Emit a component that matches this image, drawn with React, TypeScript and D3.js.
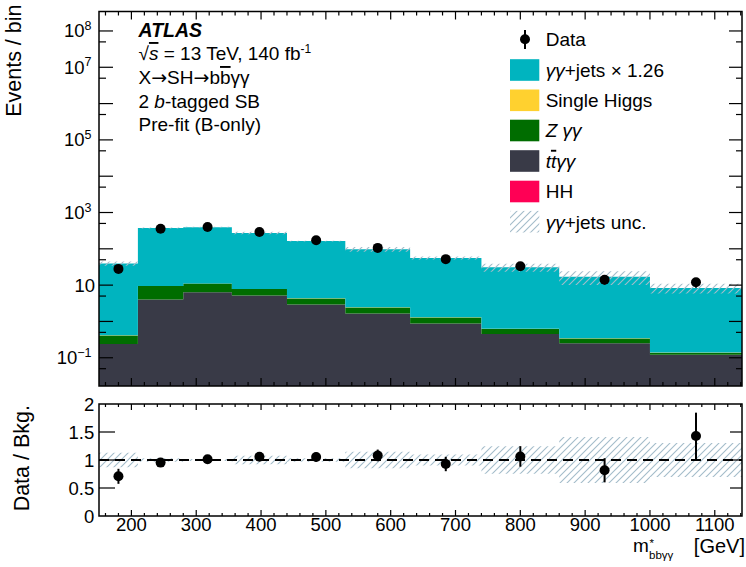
import React from "react";
import * as d3 from "d3";

const binEdges = [150, 210, 280, 355, 440, 530, 630, 740, 860, 1000, 1142];
const yyJets = [39.1, 366, 384, 266, 159, 95.6, 54.7, 30.4, 16.8, 8.26];
const singleHiggs = [0.004, 0.05, 0.06, 0.045, 0.03, 0.02, 0.012, 0.007, 0.004, 0.002];
const zyy = [0.172, 5.4, 4.7, 2.6, 1.36, 0.77, 0.41, 0.17, 0.09, 0.016];
const ttyy = [0.238, 4.0, 6.4, 5.2, 2.94, 1.66, 0.88, 0.45, 0.25, 0.121];
const hh = [0.0004, 0.003, 0.004, 0.004, 0.003, 0.002, 0.0015, 0.001, 0.0006, 0.0003];
const dataCounts = [28, 358, 400, 290, 172, 106, 52, 33, 14, 12];
const dataErr = [5.3, 18.9, 20, 17, 13.1, 10.3, 7.2, 5.7, 3.7, 3.5];
const yyUnc = [0.13, 0.03, 0.02, 0.08, 0.03, 0.15, 0.1, 0.25, 0.42, 0.31];

const xMajorTicks = [200, 300, 400, 500, 600, 700, 800, 900, 1000, 1100];
const yLabelExps = [8, 7, 5, 3, 1, -1];
const ratioLabels = [0, 0.5, 1, 1.5, 2];

const COLORS = {
  yy: "#00b4bf",
  sh: "#ffd12f",
  zyy: "#006d00",
  tt: "#393a47",
  hh: "#ff0055",
  hatch: "#a3bcca",
};

const FONT = "'Liberation Sans', Arial, Helvetica, sans-serif";
const ARROW_FONT = "'DejaVu Sans', sans-serif";

const L = 99, R = 742;
const MT = 11.5, MB = 386;
const RT = 404, RB = 516;

export default function App() {
  const x = d3.scaleLinear().domain([150, 1142]).range([L, R]);
  const y = d3.scaleLog().domain([Math.pow(10, -1.778), Math.pow(10, 8.536)]).range([MB, MT]);
  const yr = d3.scaleLinear().domain([0, 2]).range([RB, RT]);

  const nb = yyJets.length;
  const yMinVal = y.domain()[0];
  const bins = d3.range(nb).map((i) => {
    const lo = binEdges[i], hi = binEdges[i + 1];
    const layers = [hh[i], ttyy[i], zyy[i], singleHiggs[i], yyJets[i]];
    const cum: number[] = [];
    let s = 0;
    layers.forEach((v) => { s += v; cum.push(s); });
    return { lo, hi, c: (lo + hi) / 2, cum, total: s, data: dataCounts[i], err: dataErr[i], unc: yyJets[i] * yyUnc[i] };
  });
  const layerColors = [COLORS.hh, COLORS.tt, COLORS.zyy, COLORS.sh, COLORS.yy];
  const edgeIdx = binEdges.map((e, j) => ({ e, i: Math.min(j, nb - 1) }));
  const clampY = (v: number) => y(Math.max(v, yMinVal));

  const layerPaths = layerColors.map((col, k) => {
    const area = d3.area<{ e: number; i: number }>()
      .x((d) => x(d.e))
      .y0((d) => clampY(k === 0 ? yMinVal : bins[d.i].cum[k - 1]))
      .y1((d) => clampY(bins[d.i].cum[k]))
      .curve(d3.curveStepAfter);
    return { col, d: area(edgeIdx) || "" };
  });
  const mainUncPath = d3.area<{ e: number; i: number }>()
    .x((d) => x(d.e))
    .y0((d) => y(bins[d.i].total - bins[d.i].unc))
    .y1((d) => y(bins[d.i].total + bins[d.i].unc))
    .curve(d3.curveStepAfter)(edgeIdx) || "";
  const ratioUncPath = d3.area<{ e: number; i: number }>()
    .x((d) => x(d.e))
    .y0((d) => yr(1 - bins[d.i].unc / bins[d.i].total))
    .y1((d) => yr(1 + bins[d.i].unc / bins[d.i].total))
    .curve(d3.curveStepAfter)(edgeIdx) || "";

  const xMinor = d3.range(160, 1142, 20).filter((v) => v % 100 !== 0);
  const yMajorVals = d3.range(-1, 9).map((e) => Math.pow(10, e));
  const yMinorVals = d3.range(-1, 9).map((e) => 5 * Math.pow(10, e - 1)).filter((v) => v > yMinVal);

  const legendRows = [
    { key: "yy", color: COLORS.yy, y: 70 },
    { key: "sh", color: COLORS.sh, y: 100.3 },
    { key: "zyy", color: COLORS.zyy, y: 130.5 },
    { key: "tt", color: COLORS.tt, y: 161 },
    { key: "hh", color: COLORS.hh, y: 191.5 },
  ];
  const legendText: Record<string, React.ReactNode> = {
    yy: (<><tspan fontStyle="italic">γγ</tspan>+jets × 1.26</>),
    sh: "Single Higgs",
    zyy: (<tspan fontStyle="italic">Z γγ</tspan>),
    tt: (<tspan fontStyle="italic">t<tspan style={{ textDecoration: "overline" }}>t</tspan>γγ</tspan>),
    hh: "HH",
  };

  return (
    <svg width={746} height={567} style={{ position: "absolute", left: 0, top: 0, background: "#fff" }} fontFamily={FONT}>
      <defs>
        <pattern id="hatch" patternUnits="userSpaceOnUse" width={7} height={7}>
          <path d="M-1,1 l2,-2 M0,7 l7,-7 M6,8 l2,-2" stroke={COLORS.hatch} strokeWidth={1.1} />
        </pattern>
        <clipPath id="mainClip"><rect x={L} y={MT} width={R - L} height={MB - MT} /></clipPath>
        <clipPath id="ratioClip"><rect x={L} y={RT} width={R - L} height={RB - RT} /></clipPath>
      </defs>
      <rect x={0} y={0} width={746} height={567} fill="#fff" />

      {/* main stack */}
      <g clipPath="url(#mainClip)">
        {layerPaths.map((p, k) => (
          <path key={`layer${k}`} d={p.d} fill={p.col} />
        ))}
        <path d={mainUncPath} fill="url(#hatch)" />
        {bins.map((b, i) => (
          <g key={`d${i}`}>
            <line x1={x(b.c)} x2={x(b.c)} y1={y(b.data + b.err)} y2={y(b.data - b.err)} stroke="#000" strokeWidth={2} />
            <circle cx={x(b.c)} cy={y(b.data)} r={5} fill="#000" />
          </g>
        ))}
      </g>

      {/* main frame & ticks */}
      <rect x={L} y={MT} width={R - L} height={MB - MT} fill="none" stroke="#000" strokeWidth={1.5} />
      {xMajorTicks.map((v) => (
        <g key={`mxt${v}`} stroke="#000" strokeWidth={1.2}>
          <line x1={x(v)} x2={x(v)} y1={MB} y2={MB - 8} />
          <line x1={x(v)} x2={x(v)} y1={MT} y2={MT + 8} />
        </g>
      ))}
      {xMinor.map((v) => (
        <g key={`mxm${v}`} stroke="#000" strokeWidth={1.2}>
          <line x1={x(v)} x2={x(v)} y1={MB} y2={MB - 4} />
          <line x1={x(v)} x2={x(v)} y1={MT} y2={MT + 4} />
        </g>
      ))}
      {yMajorVals.map((v) => (
        <g key={`myt${v}`} stroke="#000" strokeWidth={1.2}>
          <line x1={L} x2={L + 14} y1={y(v)} y2={y(v)} />
          <line x1={R} x2={R - 13} y1={y(v)} y2={y(v)} />
        </g>
      ))}
      {yMinorVals.map((v) => (
        <g key={`mym${v}`} stroke="#000" strokeWidth={1.2}>
          <line x1={L} x2={L + 7} y1={y(v)} y2={y(v)} />
          <line x1={R} x2={R - 6} y1={y(v)} y2={y(v)} />
        </g>
      ))}
      {yLabelExps.map((e) => {
        const ty = y(Math.pow(10, e));
        if (e === 1) {
          return <text key={`myl${e}`} x={95} y={ty + 6.5} textAnchor="end" fontSize={18.5}>10</text>;
        }
        return (
          <text key={`myl${e}`} x={91.5} y={ty + 6.5} textAnchor="end" fontSize={18.5}>
            10<tspan dy={-7.5} fontSize={12.5}>{e < 0 ? `\u2212${-e}` : `${e}`}</tspan>
          </text>
        );
      })}
      <text transform="translate(20.7,4.5) rotate(-90)" textAnchor="end" fontSize={21.5}>Events / bin</text>

      {/* top-left labels */}
      <g fontSize={19}>
        <text x={138.5} y={36.5} fontWeight="bold" fontStyle="italic" fontSize={19.5}>ATLAS</text>
        <text x={138.5} y={60}>
          √<tspan fontStyle="italic" style={{ textDecoration: "overline" }}>s</tspan> = 13 TeV, 140 fb<tspan dy={-7} fontSize={12}>-1</tspan>
        </text>
        <text x={138.5} y={84}>
          X<tspan fontFamily={ARROW_FONT}>→</tspan>SH<tspan fontFamily={ARROW_FONT}>→</tspan>b<tspan style={{ textDecoration: "overline" }}>b</tspan>γγ
        </text>
        <text x={138.5} y={107.5}>2 <tspan fontStyle="italic">b</tspan>-tagged SB</text>
        <text x={138.5} y={131}>Pre-fit (B-only)</text>
      </g>

      {/* legend */}
      <g fontSize={19}>
        <line x1={525} x2={525} y1={30} y2={49} stroke="#000" strokeWidth={2} />
        <circle cx={525} cy={39.3} r={5} fill="#000" />
        <text x={545.7} y={46}>Data</text>
        {legendRows.map((r) => (
          <g key={r.key}>
            <rect x={510} y={r.y - 10.8} width={29.3} height={21.6} fill={r.color} />
            <text x={545.7} y={r.y + 6.8}>{legendText[r.key]}</text>
          </g>
        ))}
        <rect x={510} y={221.7 - 10.8} width={29.3} height={21.6} fill="url(#hatch)" />
        <text x={545.7} y={221.7 + 6.8}><tspan fontStyle="italic">γγ</tspan>+jets unc.</text>
      </g>

      {/* ratio panel */}
      <g clipPath="url(#ratioClip)">
        <path d={ratioUncPath} fill="url(#hatch)" />
        <line x1={L} x2={R} y1={yr(1)} y2={yr(1)} stroke="#000" strokeWidth={2} strokeDasharray="10,6" />
        {bins.map((b, i) => {
          const r = b.data / b.total;
          const e = b.err / b.total;
          return (
            <g key={`rd${i}`}>
              <line x1={x(b.c)} x2={x(b.c)} y1={yr(r + e)} y2={yr(r - e)} stroke="#000" strokeWidth={2} />
              <circle cx={x(b.c)} cy={yr(r)} r={5} fill="#000" />
            </g>
          );
        })}
      </g>
      <rect x={L} y={RT} width={R - L} height={RB - RT} fill="none" stroke="#000" strokeWidth={1.5} />
      {xMajorTicks.map((v) => (
        <g key={`rxt${v}`} stroke="#000" strokeWidth={1.2}>
          <line x1={x(v)} x2={x(v)} y1={RB} y2={RB - 6} />
          <line x1={x(v)} x2={x(v)} y1={RT} y2={RT + 6} />
        </g>
      ))}
      {xMinor.map((v) => (
        <g key={`rxm${v}`} stroke="#000" strokeWidth={1.2}>
          <line x1={x(v)} x2={x(v)} y1={RB} y2={RB - 3} />
          <line x1={x(v)} x2={x(v)} y1={RT} y2={RT + 3} />
        </g>
      ))}
      {[0.5, 1, 1.5].map((v) => (
        <g key={`ryt${v}`} stroke="#000" strokeWidth={1.2}>
          <line x1={L} x2={L + 16} y1={yr(v)} y2={yr(v)} />
          <line x1={R} x2={R - 12} y1={yr(v)} y2={yr(v)} />
        </g>
      ))}
      {ratioLabels.map((v) => (
        <text key={`ryl${v}`} x={94.3} y={yr(v) + 6.7} textAnchor="end" fontSize={18.5}>{String(v)}</text>
      ))}
      {xMajorTicks.map((v) => (
        <text key={`rxl${v}`} x={x(v)} y={531} textAnchor="middle" fontSize={18.5}>{String(v)}</text>
      ))}
      <text transform="translate(28.7,405) rotate(-90)" textAnchor="end" fontSize={21.5}>Data / Bkg.</text>

      {/* x-axis title */}
      <text x={633} y={552} fontSize={19}>m</text>
      <text x={649.5} y={546.5} fontSize={11.5}>*</text>
      <text x={649} y={559} fontSize={11.5}>bbγγ</text>
      <text x={745} y={553} textAnchor="end" fontSize={20}>[GeV]</text>
    </svg>
  );
}
